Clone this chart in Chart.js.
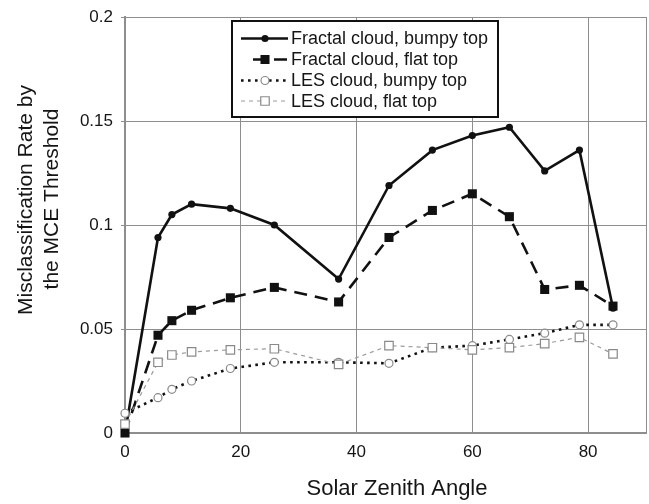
<!DOCTYPE html>
<html>
<head>
<meta charset="utf-8">
<script src="https://cdn.jsdelivr.net/npm/chart.js@4/dist/chart.umd.min.js"></script>
<style>
  html, body { margin: 0; padding: 0; background: #ffffff; }
  #wrap { width: 649px; height: 504px; }
</style>
</head>
<body>
<div id="wrap"><canvas id="c" width="649" height="504"></canvas></div>
<script>
// Solar zenith angles (degrees)
const angles = [0, 5.7, 8.1, 11.5, 18.2, 25.8, 36.9, 45.6, 53.1, 60, 66.4, 72.5, 78.5, 84.3];

// Misclassification rate by the MCE threshold
const fractalBumpy = [0, 0.094, 0.105, 0.110, 0.108, 0.100, 0.074, 0.119, 0.136, 0.143, 0.147, 0.126, 0.136, 0.060];
const fractalFlat  = [0, 0.047, 0.054, 0.059, 0.065, 0.070, 0.063, 0.094, 0.107, 0.115, 0.104, 0.069, 0.071, 0.061];
const lesBumpy     = [0.0095, 0.017, 0.021, 0.025, 0.031, 0.034, 0.034, 0.0335, 0.041, 0.042, 0.045, 0.048, 0.052, 0.052];
const lesFlat      = [0.0043, 0.034, 0.0375, 0.039, 0.040, 0.0405, 0.033, 0.042, 0.041, 0.040, 0.041, 0.043, 0.046, 0.038];

const seriesNames = [
  'Fractal cloud, bumpy top',
  'Fractal cloud, flat top',
  'LES cloud, bumpy top',
  'LES cloud, flat top'
];

const xTitle = 'Solar Zenith Angle';
const yTitleLines = ['Misclassification Rate by', 'the MCE Threshold'];

const FONT = '"Liberation Sans", Arial, Helvetica, sans-serif';
const TEXT = '#151515';
const GRID = '#8e8e8e';

const pts = ys => angles.map((a, i) => ({ x: a, y: ys[i] }));

const datasets = [
  {
    label: seriesNames[3], data: pts(lesFlat),
    borderColor: '#9a9a9a', borderWidth: 1.2, borderDash: [4, 4],
    pointStyle: 'rect', pointRadius: 6, pointBorderColor: '#8a8a8a',
    pointBackgroundColor: '#ffffff', pointBorderWidth: 1.2
  },
  {
    label: seriesNames[2], data: pts(lesBumpy),
    borderColor: '#111111', borderWidth: 2.6, borderDash: [2.6, 4.4],
    pointStyle: 'circle', pointRadius: 4, pointBorderColor: '#8a8a8a',
    pointBackgroundColor: '#ffffff', pointBorderWidth: 1.2
  },
  {
    label: seriesNames[1], data: pts(fractalFlat),
    borderColor: '#111111', borderWidth: 2.6, borderDash: [13, 8],
    pointStyle: 'rect', pointRadius: 6.4, pointBorderColor: '#111111',
    pointBackgroundColor: '#111111', pointBorderWidth: 0
  },
  {
    label: seriesNames[0], data: pts(fractalBumpy),
    borderColor: '#111111', borderWidth: 2.6,
    pointStyle: 'circle', pointRadius: 3.6, pointBorderColor: '#111111',
    pointBackgroundColor: '#111111', pointBorderWidth: 0
  }
].map(d => Object.assign({ tension: 0, fill: false, clip: 10, pointHoverRadius: d.pointRadius }, d));

// Axis titles and the boxed legend inside the plot
const decorations = {
  id: 'decorations',
  afterDraw(chart) {
    const ctx = chart.ctx;
    ctx.save();
    ctx.fillStyle = TEXT;
    ctx.textAlign = 'center';
    ctx.textBaseline = 'middle';

    ctx.font = '22px ' + FONT;
    ctx.fillText(xTitle, 397, 489);

    ctx.save();
    ctx.rotate(-Math.PI / 2);
    ctx.font = '21px ' + FONT;
    ctx.fillText(yTitleLines[0], -200, 26);
    ctx.fillText(yTitleLines[1], -199, 52);
    ctx.restore();

    // legend box
    const bx = 232, by = 21, bw = 266, bh = 96;
    ctx.fillStyle = '#ffffff';
    ctx.fillRect(bx, by, bw, bh);
    ctx.strokeStyle = '#111111';
    ctx.lineWidth = 2;
    ctx.strokeRect(bx, by, bw, bh);

    const rows = [3, 2, 1, 0];
    const rowY = [38.5, 59.5, 80.5, 101];
    ctx.font = '18px ' + FONT;
    ctx.textAlign = 'left';
    rows.forEach((di, r) => {
      const ds = chart.data.datasets[di];
      const y = rowY[r];
      const x0 = (r === 1) ? 253 : 241, x1 = 288, mx = 265;
      ctx.save();
      ctx.strokeStyle = ds.borderColor;
      ctx.lineWidth = ds.borderWidth;
      ctx.setLineDash(ds.borderDash || []);
      ctx.beginPath();
      ctx.moveTo(x0, y);
      ctx.lineTo(x1, y);
      ctx.stroke();
      ctx.restore();
      ctx.save();
      ctx.setLineDash([]);
      ctx.fillStyle = ds.pointBackgroundColor;
      ctx.strokeStyle = ds.pointBorderColor;
      ctx.lineWidth = ds.pointBorderWidth;
      Chart.helpers.drawPoint(ctx, {
        pointStyle: ds.pointStyle, rotation: 0,
        radius: ds.pointRadius, borderWidth: ds.pointBorderWidth
      }, mx, y);
      ctx.restore();
      ctx.fillStyle = TEXT;
      ctx.fillText(ds.label, 291, y + 1);
    });
    ctx.restore();
  }
};

new Chart(document.getElementById('c'), {
  type: 'line',
  data: { datasets },
  options: {
    responsive: false,
    animation: false,
    events: [],
    layout: { autoPadding: false, padding: { top: 17, right: 3, left: 0, bottom: 0 } },
    plugins: { legend: { display: false }, tooltip: { enabled: false } },
    scales: {
      x: {
        type: 'linear', min: 0, max: 90,
        afterFit(s) { s.height = 71; s.paddingLeft = 0; s.paddingRight = 0; },
        ticks: {
          stepSize: 20, padding: 9, color: TEXT,
          font: { family: FONT, size: 17 },
          maxRotation: 0,
          callback: v => (v % 20 === 0 ? String(v) : '')
        },
        grid: { color: GRID, lineWidth: 1, drawTicks: false },
        border: { color: GRID, width: 2 }
      },
      y: {
        type: 'linear', min: 0, max: 0.2,
        afterFit(s) { s.width = 125; s.paddingTop = 0; s.paddingBottom = 0; },
        ticks: {
          stepSize: 0.05, padding: 8, color: TEXT,
          font: { family: FONT, size: 17 },
          callback: v => String(Math.round(v * 100) / 100)
        },
        grid: { color: GRID, lineWidth: 1, tickLength: 4 },
        border: { color: GRID, width: 2 }
      }
    }
  },
  plugins: [decorations]
});
</script>
</body>
</html>
